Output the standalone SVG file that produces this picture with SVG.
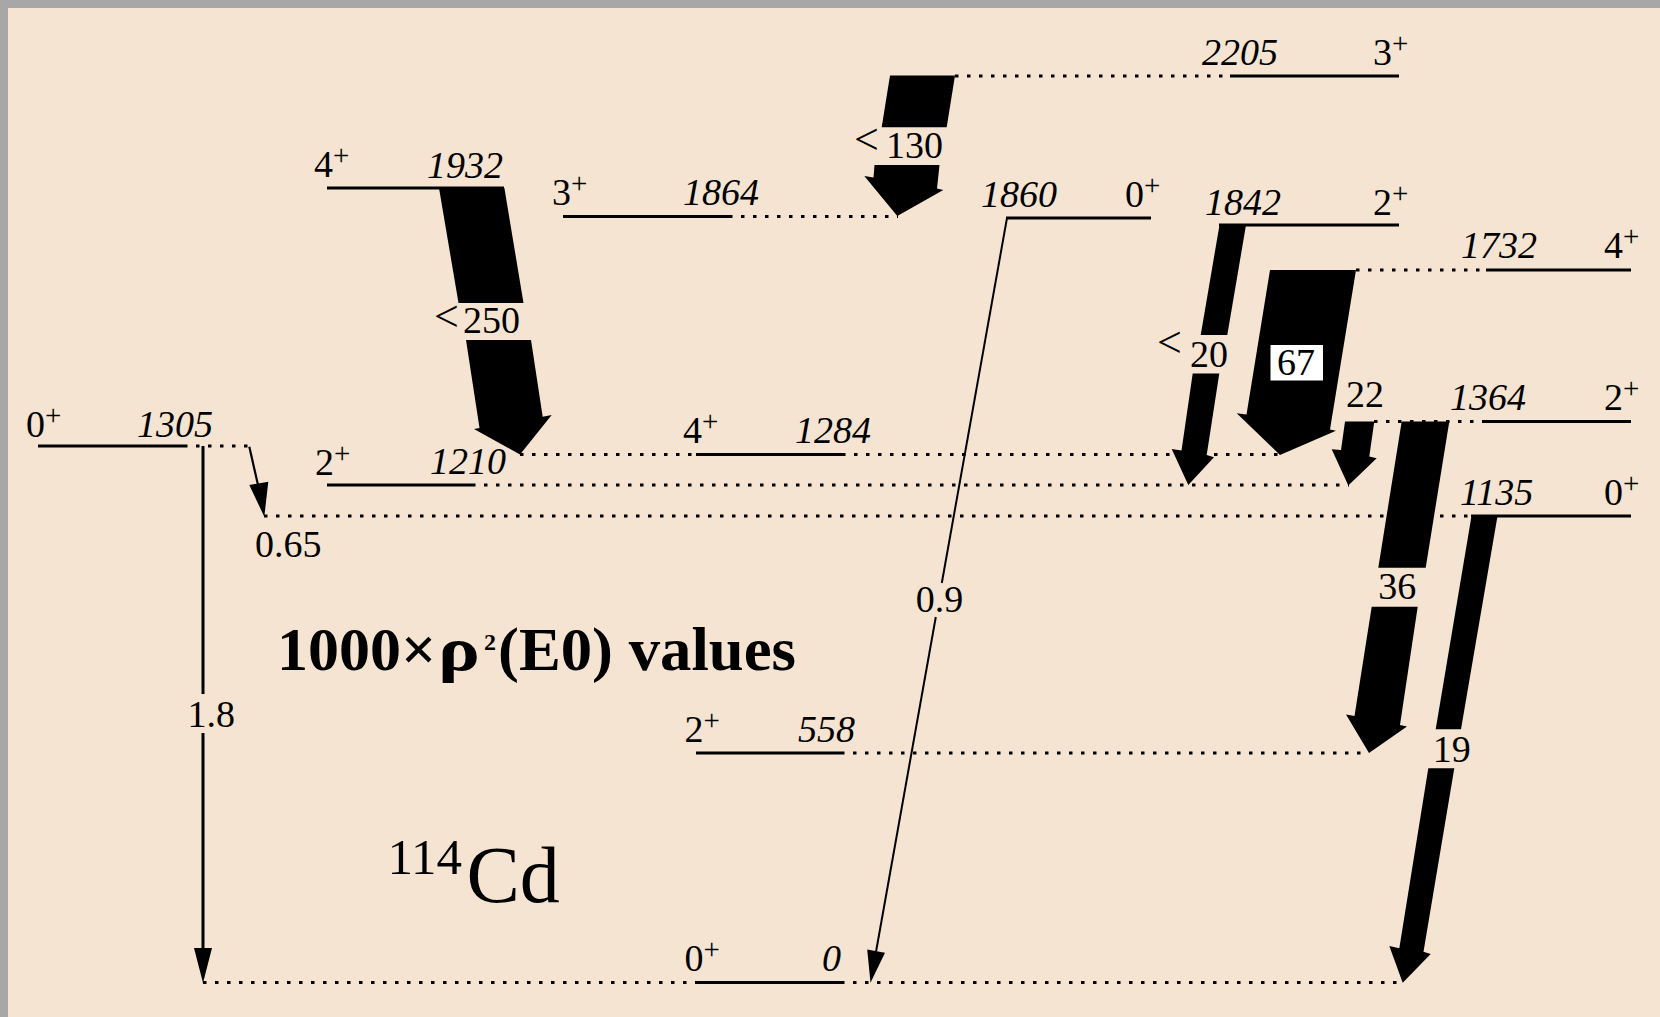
<svg xmlns="http://www.w3.org/2000/svg" width="1660" height="1017" viewBox="0 0 1660 1017">
<style>
  .lvl { stroke:#000; stroke-width:2.8; fill:none; }
  .dot { stroke:#000; stroke-width:3; stroke-dasharray:3.5 8.5; fill:none; }
  .t { font-family:"Liberation Serif","Times New Roman",serif; fill:#000; }
  .e { font-size:38px; font-style:italic; }
  .j { font-size:38px; }
  .sup { font-size:29px; }
  .v { font-size:38px; }
  .lt { font-size:44px; }
  .hd { font-size:62px; font-weight:bold; }
  .big { fill:#000; }
  .thin { stroke:#000; fill:none; }
</style>

<!-- frame and paper -->
<rect width="1660" height="1017" fill="#a7a7a7"/>
<rect x="8" y="8" width="1652" height="1009" fill="#f5e4d1"/>

<!-- levels -->
<g id="lvl-2205">
  <line class="dot" x1="955" y1="76" x2="1230" y2="76"/>
  <line class="lvl" x1="1230" y1="76" x2="1399" y2="76"/>
  <text class="t e" x="1202" y="65">2205</text>
  <text class="t j" x="1373" y="65">3<tspan class="sup" dy="-12">+</tspan></text>
</g>
<g id="lvl-1932">
  <line class="lvl" x1="327" y1="188" x2="504" y2="188"/>
  <text class="t j" x="314" y="177">4<tspan class="sup" dy="-12">+</tspan></text>
  <text class="t e" x="427" y="178">1932</text>
</g>
<g id="lvl-1864">
  <line class="lvl" x1="563" y1="216.5" x2="729" y2="216.5"/>
  <line class="dot" x1="729" y1="216.5" x2="898" y2="216.5"/>
  <text class="t j" x="552" y="205">3<tspan class="sup" dy="-12">+</tspan></text>
  <text class="t e" x="683" y="205">1864</text>
</g>
<g id="lvl-1860">
  <line class="lvl" x1="1006" y1="218" x2="1151" y2="218"/>
  <text class="t e" x="981" y="207">1860</text>
  <text class="t j" x="1125" y="207">0<tspan class="sup" dy="-12">+</tspan></text>
</g>
<g id="lvl-1842">
  <line class="lvl" x1="1219" y1="225" x2="1399" y2="225"/>
  <text class="t e" x="1205" y="215">1842</text>
  <text class="t j" x="1373" y="215">2<tspan class="sup" dy="-12">+</tspan></text>
</g>
<g id="lvl-1732">
  <line class="dot" x1="1356" y1="270" x2="1486" y2="270"/>
  <line class="lvl" x1="1486" y1="270" x2="1631" y2="270"/>
  <text class="t e" x="1461" y="258">1732</text>
  <text class="t j" x="1604" y="258">4<tspan class="sup" dy="-12">+</tspan></text>
</g>
<g id="lvl-1364">
  <line class="dot" x1="1374" y1="421.5" x2="1483" y2="421.5"/>
  <line class="lvl" x1="1483" y1="421.5" x2="1631" y2="421.5"/>
  <text class="t e" x="1450" y="410">1364</text>
  <text class="t j" x="1604" y="410">2<tspan class="sup" dy="-12">+</tspan></text>
</g>
<g id="lvl-1305">
  <line class="lvl" x1="38" y1="446" x2="184" y2="446"/>
  <line class="dot" x1="184" y1="446" x2="250" y2="446"/>
  <text class="t j" x="26" y="437">0<tspan class="sup" dy="-12">+</tspan></text>
  <text class="t e" x="137" y="437">1305</text>
</g>
<g id="lvl-1284">
  <line class="dot" x1="520" y1="454.5" x2="696" y2="454.5"/>
  <line class="lvl" x1="696" y1="454.5" x2="842" y2="454.5"/>
  <line class="dot" x1="842" y1="454.5" x2="1280" y2="454.5"/>
  <text class="t j" x="683" y="443">4<tspan class="sup" dy="-12">+</tspan></text>
  <text class="t e" x="795" y="443">1284</text>
</g>
<g id="lvl-1210">
  <line class="lvl" x1="327" y1="485" x2="472" y2="485"/>
  <line class="dot" x1="472" y1="485" x2="1349" y2="485"/>
  <text class="t j" x="315" y="475">2<tspan class="sup" dy="-12">+</tspan></text>
  <text class="t e" x="430" y="474">1210</text>
</g>
<g id="lvl-1135">
  <line class="dot" x1="264" y1="516" x2="1471" y2="516"/>
  <line class="lvl" x1="1471" y1="516" x2="1631" y2="516"/>
  <text class="t e" x="1460" y="505">1135</text>
  <text class="t j" x="1604" y="505">0<tspan class="sup" dy="-12">+</tspan></text>
</g>
<g id="lvl-558">
  <line class="lvl" x1="696" y1="753" x2="841" y2="753"/>
  <line class="dot" x1="841" y1="753" x2="1369" y2="753"/>
  <text class="t j" x="684.5" y="742">2<tspan class="sup" dy="-12">+</tspan></text>
  <text class="t e" x="798" y="742">558</text>
</g>
<g id="lvl-0">
  <line class="dot" x1="203" y1="982.5" x2="696" y2="982.5"/>
  <line class="lvl" x1="696" y1="982.5" x2="841" y2="982.5"/>
  <line class="dot" x1="841" y1="982.5" x2="1403" y2="982.5"/>
  <text class="t j" x="684.5" y="971">0<tspan class="sup" dy="-12">+</tspan></text>
  <text class="t e" x="822" y="971">0</text>
</g>

<!-- E0 transitions -->
<g id="transitions">
  <!-- 1932 -> 1284 -->
  <g id="tr-250">
    <polygon class="big" points="439,188 504.4,188 523.5,303 458.5,303"/>
    <polygon class="big" points="466,340 531,340 542.7,416.7 551.7,415 520,454.5 474,429 479.5,428"/>
    <text class="t lt" x="434" y="331">&lt;</text>
    <text class="t v" x="463" y="333">250</text>
  </g>
  <!-- 2205 -> 1864 -->
  <g id="tr-130">
    <polygon class="big" points="890,75.5 955,75.5 946.7,127.3 881.7,127.3"/>
    <polygon class="big" points="874.5,165 939.5,165 937,188.5 943.3,190 897.3,216 864.3,176 873.5,177.5"/>
    <text class="t lt" x="854" y="154">&lt;</text>
    <text class="t v" x="886" y="158.3">130</text>
  </g>
  <!-- 1842 -> 1210 -->
  <g id="tr-20">
    <polygon class="big" points="1219.5,225 1246,225 1227.3,335 1200.7,335"/>
    <polygon class="big" points="1192.7,373.5 1219.3,373.5 1206.7,455 1214,457.3 1188.3,485 1171.7,449 1181.5,450.5"/>
    <text class="t lt" x="1157" y="357">&lt;</text>
    <text class="t v" x="1190" y="366.7">20</text>
  </g>
  <!-- 1732 -> 1284 -->
  <g id="tr-67">
    <polygon class="big" points="1270,270 1356,270 1330,429.5 1336,430.7 1280,455 1236.7,413.3 1246.5,414.5"/>
    <rect x="1270" y="344.5" width="53.5" height="36.5" fill="#fff" stroke="#000" stroke-width="1"/>
    <text class="t v" x="1277" y="375">67</text>
  </g>
  <!-- 1364 -> 1210 -->
  <g id="tr-22">
    <polygon class="big" points="1345,421.5 1374.3,421.5 1369.3,456.5 1376.7,458.3 1348.3,485.5 1331.7,449.3 1341,450"/>
    <text class="t v" x="1346" y="406.7">22</text>
  </g>
  <!-- 1364 -> 558 -->
  <g id="tr-36">
    <polygon class="big" points="1401.7,421.5 1449.3,421.5 1425.7,567.7 1378.3,567.7"/>
    <polygon class="big" points="1371.7,606.7 1417.7,606.7 1400,725 1407,726.5 1369,753 1346,714.5 1354.5,716"/>
    <text class="t v" x="1378.3" y="599.3">36</text>
  </g>
  <!-- 1135 -> 0 -->
  <g id="tr-19">
    <polygon class="big" points="1471.5,516 1497.5,516 1461,729.3 1435.7,729.3"/>
    <polygon class="big" points="1428.3,768.3 1454.3,768.3 1423.5,951.7 1430.7,954 1402.7,982.7 1389.3,946 1399.3,948.3"/>
    <text class="t v" x="1432.7" y="761.7">19</text>
  </g>
  <!-- 1305 -> 0 -->
  <g id="tr-1.8">
    <line class="thin" stroke-width="3" x1="203" y1="446" x2="203" y2="694"/>
    <line class="thin" stroke-width="3" x1="203" y1="733" x2="203" y2="950"/>
    <polygon class="big" points="194,948 212,948 203,983"/>
    <text class="t v" x="187.5" y="726.6">1.8</text>
  </g>
  <!-- 1305 -> 1135 -->
  <g id="tr-0.65">
    <line class="thin" stroke-width="2.2" x1="249.3" y1="446.7" x2="258" y2="485"/>
    <polygon class="big" points="249.3,485 268.3,481.7 264.3,516.7"/>
    <text class="t v" x="255" y="556.7">0.65</text>
  </g>
  <!-- 1860 -> 0 -->
  <g id="tr-0.9">
    <line class="thin" stroke-width="2" x1="1007" y1="218" x2="941.8" y2="583"/>
    <line class="thin" stroke-width="2" x1="935.8" y1="617" x2="876.1" y2="951.2"/>
    <polygon class="big" points="867.2,949.6 885,952.8 870.5,982.7"/>
    <text class="t v" x="915.7" y="612">0.9</text>
  </g>
</g>

<!-- headings -->
<g id="title">
  <text class="t hd" x="277" y="670">1000×</text>
  <text class="t hd" x="438" y="670" textLength="42" lengthAdjust="spacingAndGlyphs">ρ</text>
  <text class="t" font-weight="bold" font-size="24" x="484" y="650">2</text>
  <text class="t hd" x="498" y="670" textLength="298" lengthAdjust="spacingAndGlyphs">(E0) values</text>
</g>
<g id="nucleus">
  <text class="t" font-size="51" x="387.5" y="874">114</text>
  <text class="t" font-size="80" x="466.5" y="902">Cd</text>
</g>
</svg>
